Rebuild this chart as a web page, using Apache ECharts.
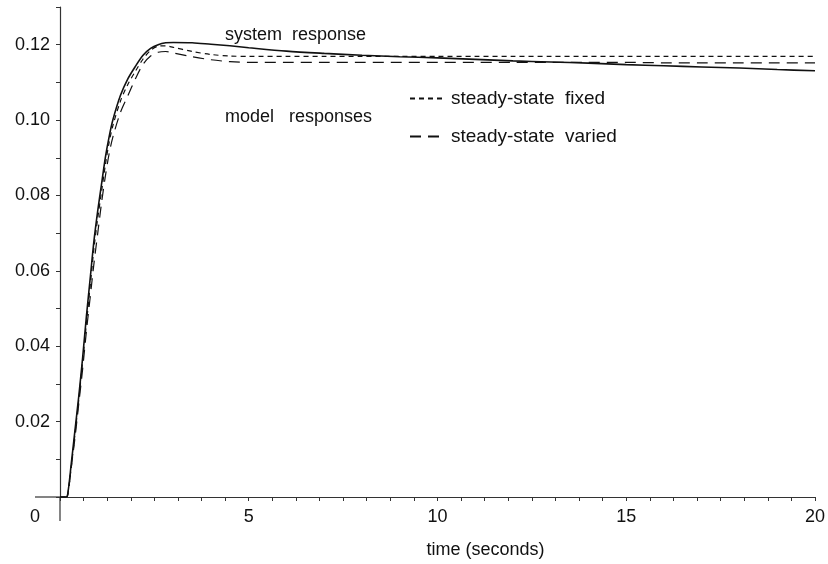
<!DOCTYPE html>
<html>
<head>
<meta charset="utf-8">
<script src="https://cdn.jsdelivr.net/npm/echarts@6/dist/echarts.min.js"></script>
<style>
  html, body { margin: 0; padding: 0; background: #fff; }
  #chart { width: 828px; height: 564px; }
</style>
</head>
<body>
<div id="chart"></div>
<script>
// time samples (seconds)
const times = [0, 0.15, 0.2, 0.3, 0.4, 0.5, 0.6, 0.7, 0.8, 0.9, 1.0, 1.1, 1.2, 1.3, 1.4, 1.6, 1.8, 2.0, 2.2, 2.4, 2.6, 2.8, 3.0, 3.5, 4, 4.5, 5, 6, 7, 8, 9, 10, 11, 12, 13, 14, 15, 16, 17, 18, 19, 20]

const systemResp = [0, 0, 0.0005, 0.009, 0.018, 0.027, 0.037, 0.048, 0.058, 0.068, 0.076, 0.083, 0.090, 0.0955, 0.100, 0.1065, 0.111, 0.1143, 0.1172, 0.119, 0.1200, 0.1205, 0.1206, 0.1205, 0.1201, 0.1197, 0.1192, 0.1183, 0.1177, 0.1172, 0.1168, 0.1165, 0.1161, 0.1157, 0.1154, 0.1151, 0.1147, 0.1144, 0.1141, 0.1138, 0.1134, 0.1131]

const fixedResp = [0, 0, 0.0004, 0.008, 0.017, 0.026, 0.036, 0.046, 0.056, 0.066, 0.074, 0.081, 0.088, 0.094, 0.0985, 0.105, 0.1095, 0.113, 0.1162, 0.1185, 0.1196, 0.1197, 0.1193, 0.1182, 0.1174, 0.1170, 0.1169, 0.1169, 0.1169, 0.1169, 0.1169, 0.1169, 0.1169, 0.1169, 0.1169, 0.1169, 0.1169, 0.1169, 0.1169, 0.1169, 0.1169, 0.1169]

const variedResp = [0, 0, 0.0003, 0.008, 0.016, 0.025, 0.034, 0.044, 0.053, 0.062, 0.070, 0.078, 0.085, 0.091, 0.0955, 0.102, 0.1065, 0.111, 0.1148, 0.1170, 0.1180, 0.1182, 0.1178, 0.1168, 0.1160, 0.1155, 0.1153, 0.1153, 0.1153, 0.1153, 0.1153, 0.1153, 0.1153, 0.1153, 0.1153, 0.1153, 0.1153, 0.1152, 0.1152, 0.1152, 0.1152, 0.1152]

const seriesNames = ['system response', 'steady-state  fixed', 'steady-state  varied']

const font = 'Liberation Sans'
const ink = '#111'
const axisColor = '#333'

const chart = echarts.init(document.getElementById('chart'))

function pairs(vals) {
  return times.map((t, i) => [t, vals[i]])
}

const option = {
  animation: false,
  backgroundColor: '#fff',
  grid: { left: 60, right: 13, top: 7, bottom: 66 },
  legend: {
    data: [seriesNames[1], seriesNames[2]],
    orient: 'vertical',
    left: 404,
    top: 84,
    itemWidth: 36,
    itemHeight: 14,
    itemGap: 19,
    itemStyle: { opacity: 0 },
    textStyle: { fontFamily: font, fontSize: 19, color: ink },
    selectedMode: false
  },
  xAxis: {
    type: 'value',
    min: 0,
    max: 20,
    interval: 5,
    name: 'time (seconds)',
    nameLocation: 'middle',
    nameGap: 44,
    nameTextStyle: { fontFamily: font, fontSize: 18, color: ink, padding: [0, 0, 0, 96] },
    axisLine: { lineStyle: { color: axisColor, width: 1.2 } },
    axisTick: { show: true, inside: false, length: 4, lineStyle: { color: axisColor } },
    minorTick: { show: true, splitNumber: 8, length: 4, lineStyle: { color: axisColor } },
    splitLine: { show: false },
    axisLabel: {
      fontFamily: font,
      fontSize: 18,
      color: ink,
      margin: 11,
      formatter: v => v === 0 ? '{z|0}' : String(v),
      rich: { z: { fontFamily: font, fontSize: 18, color: ink, padding: [0, 50, 0, 0] } }
    }
  },
  yAxis: {
    type: 'value',
    min: 0,
    max: 0.13,
    interval: 0.01,
    axisLine: { show: true, lineStyle: { color: axisColor, width: 1.2 } },
    axisTick: { show: true, inside: false, length: 4, lineStyle: { color: axisColor } },
    splitLine: { show: false },
    axisLabel: {
      fontFamily: font,
      fontSize: 18,
      color: ink,
      margin: 10,
      formatter: v => {
        const k = Math.round(v * 100)
        return k > 0 && k % 2 === 0 ? v.toFixed(2) : ''
      }
    }
  },
  graphic: [
    { id: 'lblSystem', type: 'text', left: 225, top: 26, style: { text: 'system  response', fontFamily: font, fontSize: 18, fill: ink } },
    { id: 'lblModel', type: 'text', left: 225, top: 108, style: { text: 'model   responses', fontFamily: font, fontSize: 18, fill: ink } }
  ],
  series: [
    {
      name: seriesNames[0],
      type: 'line',
      data: pairs(systemResp),
      smooth: 0.3,
      symbol: 'none',
      itemStyle: { color: ink },
      lineStyle: { color: ink, width: 1.6 }
    },
    {
      name: seriesNames[1],
      type: 'line',
      data: pairs(fixedResp),
      smooth: 0.3,
      symbol: 'none',
      itemStyle: { color: ink },
      lineStyle: { color: ink, width: 1.2, type: [5, 4] }
    },
    {
      name: seriesNames[2],
      type: 'line',
      data: pairs(variedResp),
      smooth: 0.3,
      symbol: 'none',
      itemStyle: { color: ink },
      lineStyle: { color: ink, width: 1.2, type: [11, 7] }
    }
  ]
}

chart.setOption(option)

// the plotter ran both axis lines a little past the origin
const origin = chart.convertToPixel({ gridIndex: 0 }, [0, 0])
chart.setOption({
  graphic: [
    { id: 'xStub', type: 'line', shape: { x1: origin[0] - 25, y1: origin[1], x2: origin[0], y2: origin[1] }, style: { stroke: axisColor, lineWidth: 1.2 } },
    { id: 'yStub', type: 'line', shape: { x1: origin[0], y1: origin[1], x2: origin[0], y2: origin[1] + 24 }, style: { stroke: axisColor, lineWidth: 1.2 } }
  ]
})
</script>
</body>
</html>
